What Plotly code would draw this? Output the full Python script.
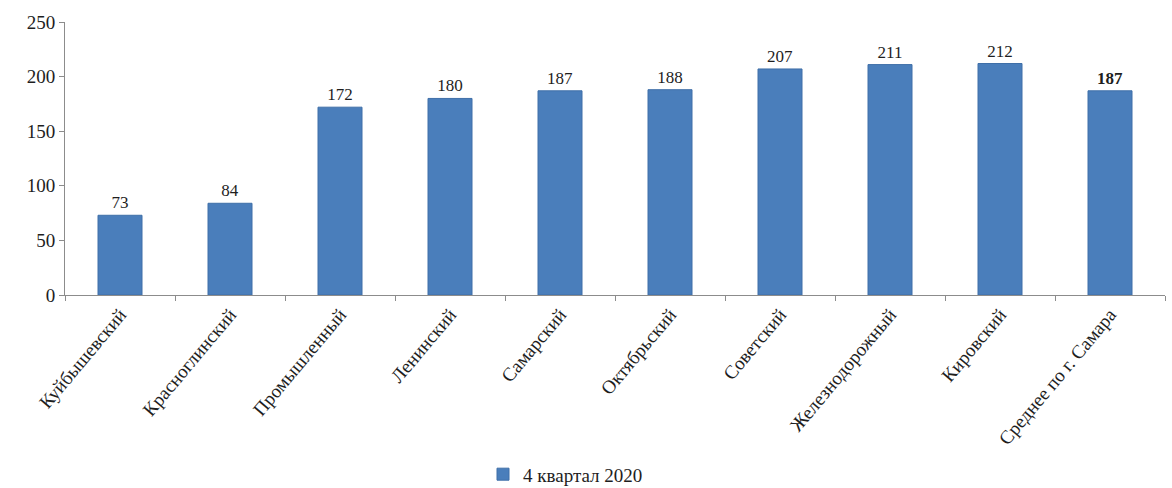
import plotly.graph_objects as go

# Районы г. Самары и среднее по городу
districts = [
    "Куйбышевский", "Красноглинский", "Промышленный", "Ленинский", "Самарский",
    "Октябрьский", "Советский", "Железнодорожный", "Кировский", "Среднее по г. Самара",
]
values_q4_2020 = [73, 84, 172, 180, 187, 188, 207, 211, 212, 187]
series_name = "4 квартал 2020"
y_ticks = [0, 50, 100, 150, 200, 250]

# Подпись среднего по городу выделяется жирным
labels = [str(v) for v in values_q4_2020]
labels[-1] = f"<b>{labels[-1]}</b>"

bar_color = "#4A7EBB"
axis_color = "#8C8C8C"
text_color = "#1E1E1E"
font_family = "Liberation Serif, Times New Roman, serif"

fig = go.Figure(
    go.Bar(
        x=districts,
        y=values_q4_2020,
        name=series_name,
        marker=dict(color=bar_color, line=dict(color="#3F6FA8", width=1)),
        text=labels,
        textposition="outside",
        cliponaxis=False,
        textfont=dict(family=font_family, size=17, color=text_color),
        showlegend=True,
    )
)

fig.update_layout(
    width=1172,
    height=488,
    margin=dict(l=65, r=7, t=22, b=193, autoexpand=False),
    paper_bgcolor="white",
    plot_bgcolor="white",
    bargap=0.6,
    font=dict(family=font_family, size=18, color=text_color),
    legend=dict(
        orientation="h",
        x=0.455,
        xanchor="center",
        yref="container",
        y=0.028,
        yanchor="middle",
        font=dict(family=font_family, size=19, color=text_color),
        itemwidth=30,
    ),
)

fig.update_xaxes(
    automargin=False,
    showline=True,
    linecolor=axis_color,
    linewidth=1,
    ticks="outside",
    tickson="boundaries",
    ticklen=5,
    tickcolor=axis_color,
    tickangle=-50,
    tickfont=dict(family=font_family, size=19, color=text_color),
    showgrid=False,
)

fig.update_yaxes(
    automargin=False,
    range=[0, 250],
    tickvals=y_ticks,
    showline=True,
    linecolor=axis_color,
    linewidth=1,
    ticks="outside",
    ticklen=5,
    tickcolor=axis_color,
    tickfont=dict(family=font_family, size=19, color=text_color),
    showgrid=False,
    zeroline=False,
)

fig.write_html("out.html")
